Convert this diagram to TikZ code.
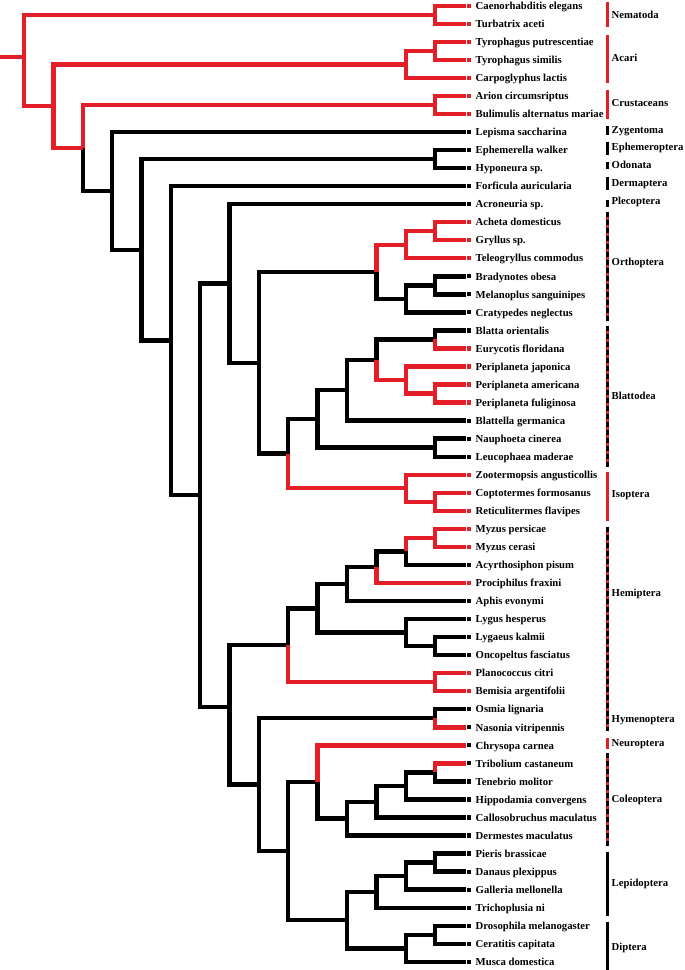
\documentclass[tikz,border=0pt]{standalone}
\usepackage{fontspec}
\setmainfont{Liberation Serif}
\definecolor{myred}{RGB}{228,30,38}
\begin{document}
\begin{tikzpicture}[x=1pt,y=-1pt,
  br/.style={line width=4.4pt},
  rb/.style={br,draw=myred},
  kb/.style={br,draw=black},
  leaf/.style={font=\fontsize{10.7}{12}\selectfont\bfseries,inner sep=0pt,anchor=base west},
  grp/.style={leaf},
  bar/.style={line width=3pt},
  dbar/.style={bar,draw=myred,dash pattern=on 3pt off 5pt,dash phase=3pt}]
\useasboundingbox (0,0) rectangle (685,970);
% leaves
\foreach \i/\c/\t in {1/myred/Caenorhabditis elegans,2/myred/Turbatrix aceti,3/myred/Tyrophagus putrescentiae,4/myred/Tyrophagus similis,5/myred/Carpoglyphus lactis,6/myred/Arion circumsriptus,7/myred/Bulimulis alternatus mariae,8/black/Lepisma saccharina,9/black/Ephemerella walker,10/black/Hyponeura sp.,11/black/Forficula auricularia,12/black/Acroneuria sp.,13/myred/Acheta domesticus,14/myred/Gryllus sp.,15/myred/Teleogryllus commodus,16/black/Bradynotes obesa,17/black/Melanoplus sanguinipes,18/black/Cratypedes neglectus,19/black/Blatta orientalis,20/myred/Eurycotis floridana,21/myred/Periplaneta japonica,22/myred/Periplaneta americana,23/myred/Periplaneta fuliginosa,24/black/Blattella germanica,25/black/Nauphoeta cinerea,26/black/Leucophaea maderae,27/myred/Zootermopsis angusticollis,28/myred/Coptotermes formosanus,29/myred/Reticulitermes flavipes,30/myred/Myzus persicae,31/myred/Myzus cerasi,32/black/Acyrthosiphon pisum,33/myred/Prociphilus fraxini,34/black/Aphis evonymi,35/black/Lygus hesperus,36/black/Lygaeus kalmii,37/black/Oncopeltus fasciatus,38/myred/Planococcus citri,39/myred/Bemisia argentifolii,40/black/Osmia lignaria,41/black/Nasonia vitripennis,42/black/Chrysopa carnea,43/black/Tribolium castaneum,44/black/Tenebrio molitor,45/black/Hippodamia convergens,46/black/Callosobruchus maculatus,47/black/Dermestes maculatus,48/black/Pieris brassicae,49/black/Danaus plexippus,50/black/Galleria mellonella,51/black/Trichoplusia ni,52/black/Drosophila melanogaster,53/black/Ceratitis capitata,54/black/Musca domestica}{
  \pgfmathsetmacro\yy{5.7+(\i-1)*18.04}
  \coordinate (L\i) at (466,\yy);
  \fill[\c] (467,\yy-2.1) rectangle (471,\yy+2.1);
  \node[leaf] (T\i) at (475.5,\yy+3.7) {\t};
}
% internal nodes
\coordinate (stub) at (0,57);
\coordinate (root) at (24,57);
\coordinate (n1) at (53.4,106.1);
\coordinate (nNem) at (435,14.72);
\coordinate (nAca) at (405.7,64.33);
\coordinate (nTyr) at (435,50.8);
\coordinate (n2) at (82.7,147.9);
\coordinate (nCru) at (435,104.92);
\coordinate (n3) at (112.1,190.9);
\coordinate (n4) at (141.4,249.85);
\coordinate (nEph) at (435,159.04);
\coordinate (n5) at (170.8,340.65);
\coordinate (nPH) at (200.2,495.2);
\coordinate (nP) at (229.5,283.42);
\coordinate (nPoly) at (258.9,362.7);
\coordinate (nOrt) at (376.3,271.79);
\coordinate (nCri) at (405.7,244.73);
\coordinate (nCri2) at (435,231.2);
\coordinate (nBra) at (405.7,298.85);
\coordinate (nBra2) at (435,285.32);
\coordinate (nDict) at (288.2,453.6);
\coordinate (nBlaC) at (317.6,418.93);
\coordinate (nBlaB) at (347,390.18);
\coordinate (nBlaA) at (376.3,359.74);
\coordinate (nBla2) at (435,339.44);
\coordinate (nPer) at (405.7,380.03);
\coordinate (nPer2) at (435,393.56);
\coordinate (nNau) at (435,447.68);
\coordinate (nIso) at (405.7,488.27);
\coordinate (nIso2) at (435,501.8);
\coordinate (nHH) at (229.5,707);
\coordinate (nHem) at (288.2,645.28);
\coordinate (nHemA) at (317.6,608.35);
\coordinate (nAph3) at (347,584.11);
\coordinate (nAph2) at (376.3,567.2);
\coordinate (nAph1) at (405.7,551.41);
\coordinate (nMyz) at (435,537.88);
\coordinate (nLyg) at (405.7,632.59);
\coordinate (nLyg2) at (435,646.12);
\coordinate (nPla) at (435,682.2);
\coordinate (nHolo) at (258.9,784.67);
\coordinate (nHym) at (435,718.28);
\coordinate (nNCLD) at (288.2,851.05);
\coordinate (nNC) at (317.6,781.99);
\coordinate (nCol3) at (347,818.63);
\coordinate (nCol2) at (376.3,801.72);
\coordinate (nCol1) at (405.7,785.93);
\coordinate (nTri) at (435,772.4);
\coordinate (nLD) at (347,920.1);
\coordinate (nLep2) at (376.3,891.92);
\coordinate (nLep1) at (405.7,876.13);
\coordinate (nPie) at (435,862.6);
\coordinate (nDip) at (405.7,948.29);
\coordinate (nDro) at (435,934.76);
% black branches
\foreach \a/\b in {n2/n3,n3/L8,n3/n4,n4/nEph,nEph/L9,nEph/L10,n4/n5,n5/L11,n5/nPH,nPH/nP,nPH/nHH,nP/L12,nP/nPoly,nPoly/nOrt,nPoly/nDict,nOrt/nBra,nBra/nBra2,nBra/L18,nBra2/L16,nBra2/L17,nDict/nBlaC,nBlaC/nBlaB,nBlaC/nNau,nNau/L25,nNau/L26,nBlaB/nBlaA,nBlaB/L24,nBlaA/nBla2,nBla2/L19,nHH/nHem,nHH/nHolo,nHem/nHemA,nHemA/nAph3,nHemA/nLyg,nAph3/nAph2,nAph3/L34,nAph2/nAph1,nAph1/L32,nLyg/L35,nLyg/nLyg2,nLyg2/L36,nLyg2/L37,nHolo/nHym,nHolo/nNCLD,nHym/L40,nNCLD/nNC,nNCLD/nLD,nNC/nCol3,nCol3/nCol2,nCol3/L47,nCol2/nCol1,nCol2/L46,nCol1/nTri,nCol1/L45,nTri/L44,nLD/nLep2,nLD/nDip,nLep2/nLep1,nLep2/L51,nLep1/nPie,nLep1/L50,nPie/L48,nPie/L49,nDip/nDro,nDip/L54,nDro/L52,nDro/L53}
  {\draw[kb] (\a) |- (\b);}
% red branches
\draw[rb] (stub) -- (root);
\foreach \a/\b in {root/nNem,root/n1,n1/nAca,n1/n2,n2/nCru,nNem/L1,nNem/L2,nAca/nTyr,nAca/L5,nTyr/L3,nTyr/L4,nCru/L6,nCru/L7,nOrt/nCri,nCri/nCri2,nCri/L15,nCri2/L13,nCri2/L14,nBla2/L20,nBlaA/nPer,nPer/L21,nPer/nPer2,nPer2/L22,nPer2/L23,nDict/nIso,nIso/L27,nIso/nIso2,nIso2/L28,nIso2/L29,nHem/nPla,nPla/L38,nPla/L39,nAph2/L33,nAph1/nMyz,nMyz/L30,nMyz/L31,nHym/L41,nNC/L42,nTri/L43}
  {\draw[rb] (\a) |- (\b);}
% clade bars
\draw[bar,myred] (607,1.7) -- (607,26.7);
\draw[bar,myred] (607,35) -- (607,83);
\draw[bar,myred] (607,90) -- (607,119);
\draw[bar,black] (607,126) -- (607,135);
\draw[bar,black] (607,141.7) -- (607,155);
\draw[bar,black] (607,161.7) -- (607,169.3);
\draw[bar,black] (607,176.7) -- (607,190);
\draw[bar,black] (607,199.5) -- (607,207);
\draw[bar,black] (607,211.7) -- (607,320.7);
\draw[dbar] (607,211.7) -- (607,320.7);
\draw[bar,black] (607,326) -- (607,466.7);
\draw[dbar] (607,326) -- (607,466.7);
\draw[bar,myred] (607,471.7) -- (607,520.7);
\draw[bar,black] (607,526.7) -- (607,731);
\draw[dbar] (607,526.7) -- (607,731);
\draw[bar,myred] (607,738) -- (607,749.3);
\draw[bar,black] (607,753) -- (607,846);
\draw[dbar] (607,753) -- (607,846);
\draw[bar,black] (607,851.7) -- (607,916);
\draw[bar,black] (607,921.7) -- (607,970);
% clade labels
\foreach \n/\y/\t in {1/14.7/Nematoda,2/57.7/Acari,3/103/Crustaceans,4/130/Zygentoma,5/147/Ephemeroptera,6/165/Odonata,7/183/Dermaptera,8/201/Plecoptera,9/262/Orthoptera,10/395.7/Blattodea,11/494/Isoptera,12/592.7/Hemiptera,13/719/Hymenoptera,14/743/Neuroptera,15/799/Coleoptera,16/883/Lepidoptera,17/947/Diptera}
  {\node[grp] (G\n) at (611.5,\y+3.7) {\t};}
\end{tikzpicture}
\end{document}
